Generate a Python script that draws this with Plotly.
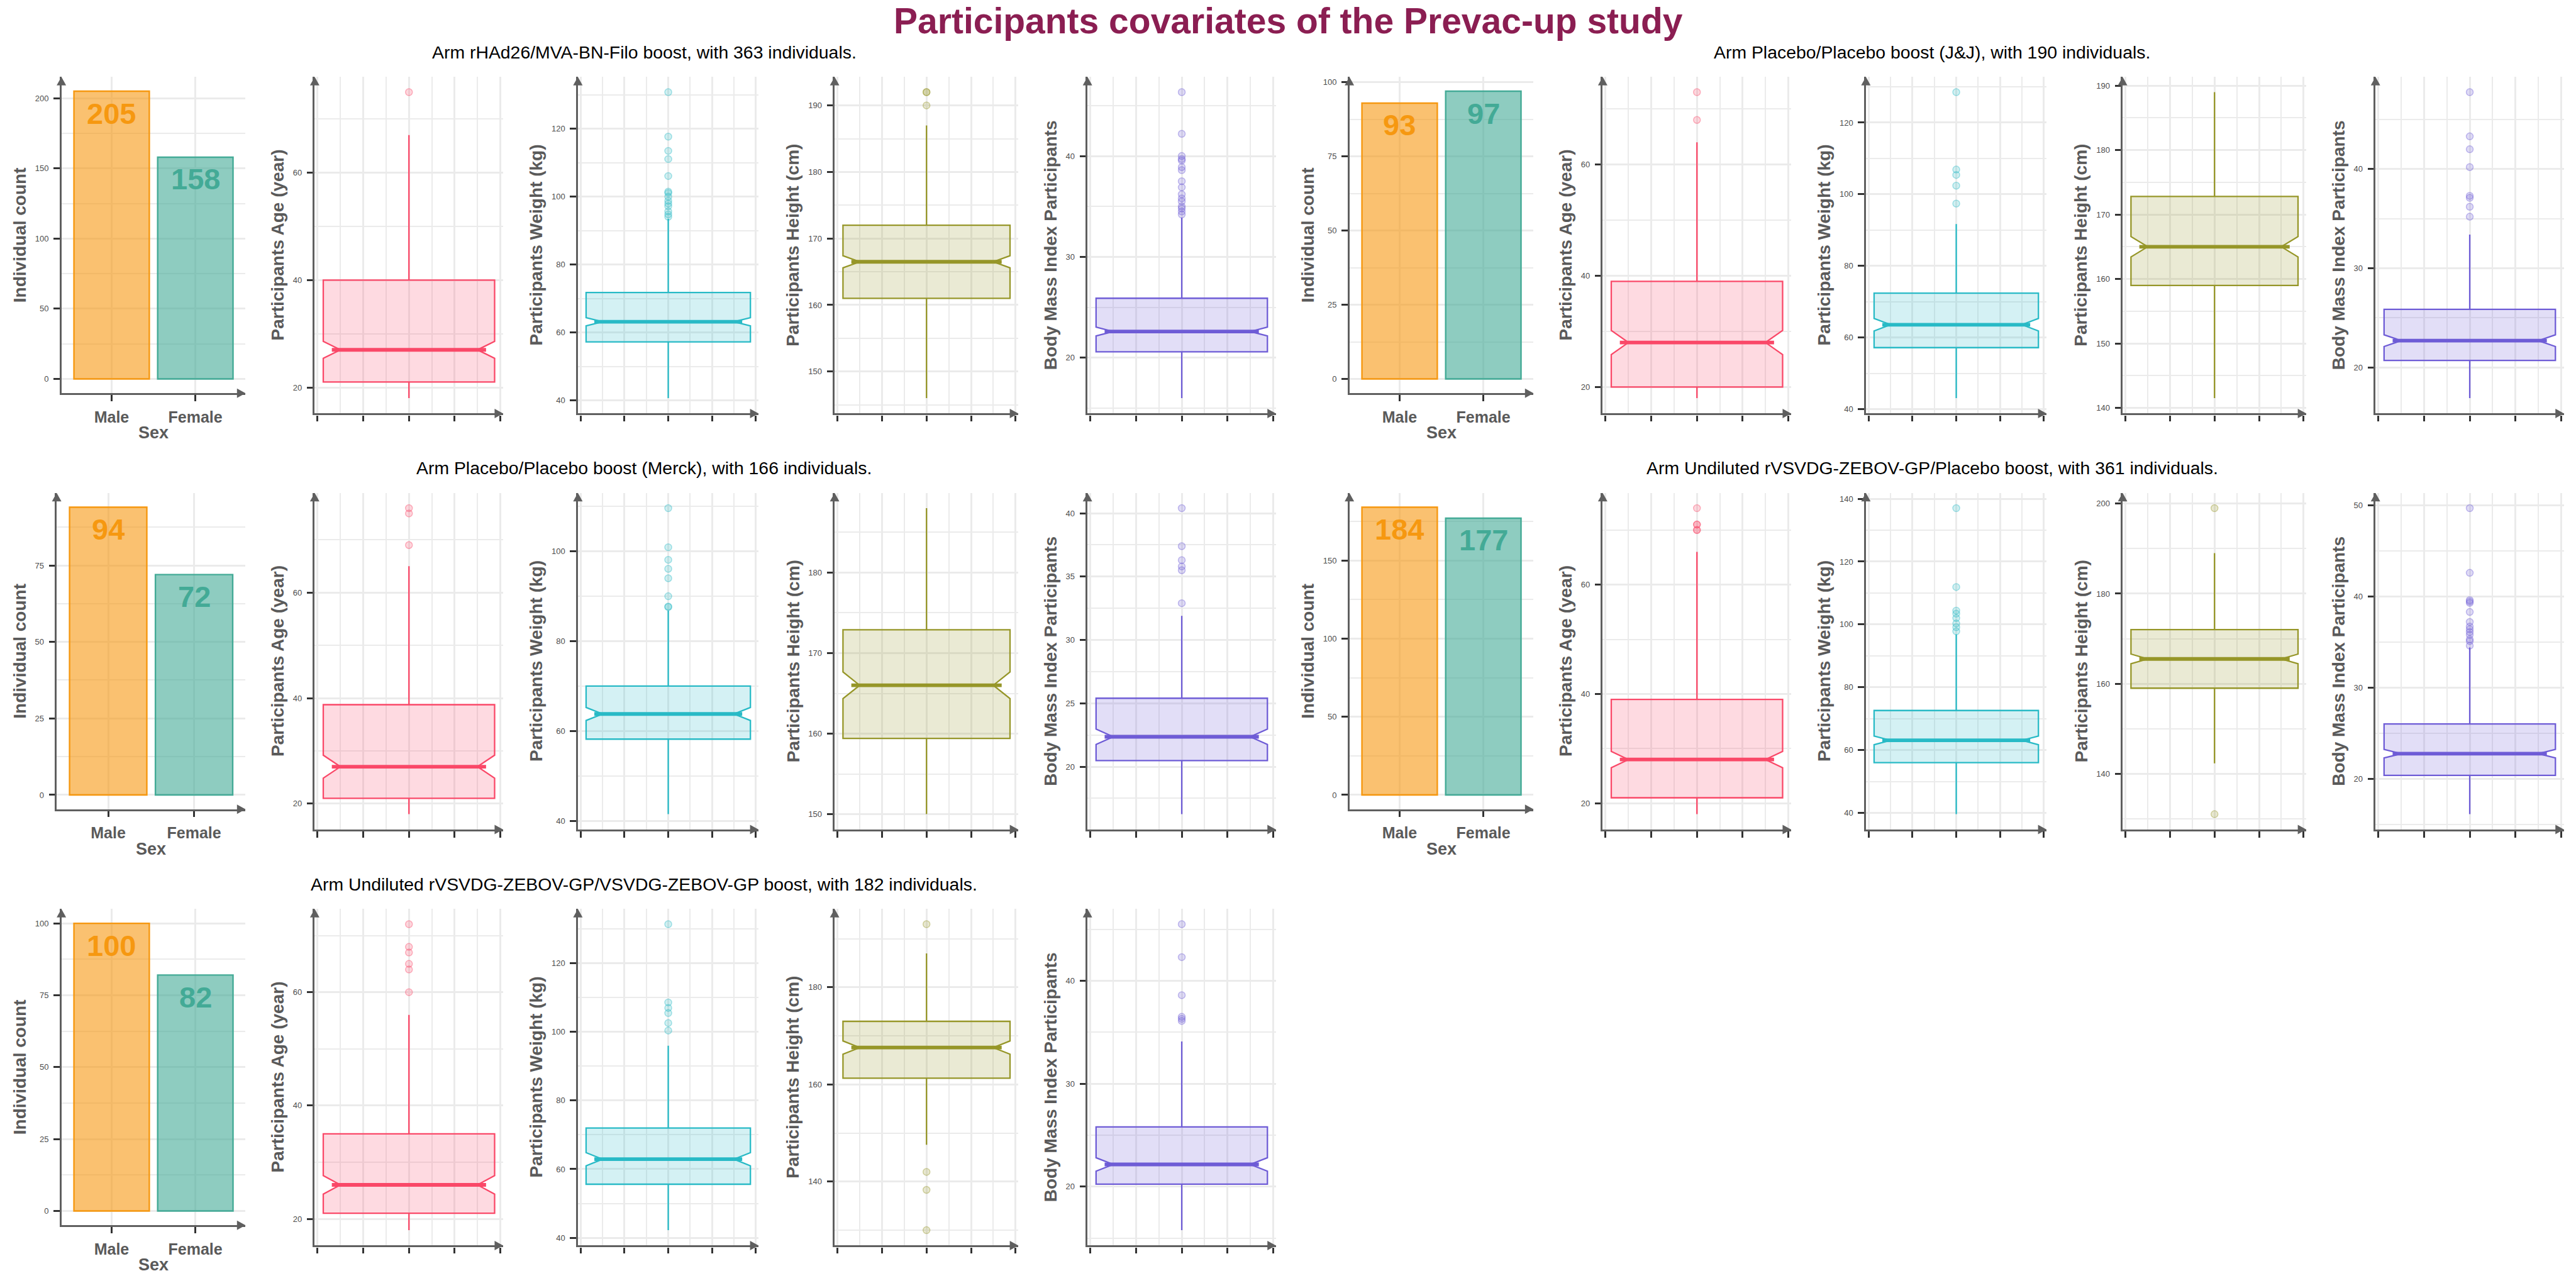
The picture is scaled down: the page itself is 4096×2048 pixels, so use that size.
import math
import plotly.graph_objects as go

# ---------------- data ----------------
main_title = "Participants covariates of the Prevac-up study"
arm_titles = [
    "Arm rHAd26/MVA-BN-Filo boost, with 363 individuals.",
    "Arm Placebo/Placebo boost (J&J), with 190 individuals.",
    "Arm Placebo/Placebo boost (Merck), with 166 individuals.",
    "Arm Undiluted rVSVDG-ZEBOV-GP/Placebo boost, with 361 individuals.",
    "Arm Undiluted rVSVDG-ZEBOV-GP/VSVDG-ZEBOV-GP boost, with 182 individuals.",
]
arm_n = [363, 190, 166, 361, 182]

sex_labels = ["Male", "Female"]
male_counts = [205, 93, 94, 184, 100]
female_counts = [158, 97, 72, 177, 82]
count_tick_step = [50, 25, 25, 50, 25]

var_titles = ["Participants Age (year)", "Participants Weight (kg)",
              "Participants Height (cm)", "Body Mass Index Participants"]

# [lower whisker, q1, median, q3, upper whisker]
age_stats = [
    [18, 21, 27, 40, 67],
    [18, 20, 28, 39, 64],
    [18, 21, 27, 38.75, 65],
    [18, 21, 28, 39, 66],
    [18, 21, 26, 35, 56],
]
age_outliers = [
    [75],
    [68, 73],
    [69, 75, 76],
    [70, 70, 71, 71, 74],
    [60, 64, 65, 67, 68, 72],
]
age_tick_step = [20, 20, 20, 20, 20]

weight_stats = [
    [40.7, 57.25, 63.2, 71.8, 93.5],
    [43.1, 57.2, 63.6, 72.4, 91.7],
    [41.5, 58.2, 63.8, 70.0, 86.8],
    [39.6, 56.0, 63.1, 72.6, 96.8],
    [42.2, 55.6, 62.9, 72.0, 96.0],
]
weight_outliers = [
    [94.1, 94.8, 95.7, 97.2, 98.0, 98.8, 100.0, 101.1, 101.5, 106.1, 111.1, 113.5, 117.7, 130.8],
    [97.4, 102.4, 105.4, 106.9, 128.5],
    [87.6, 87.7, 90.0, 94.0, 96.1, 98.1, 100.9, 109.6],
    [97.8, 99.1, 100.3, 102.0, 103.4, 104.4, 111.9, 137.0],
    [100.4, 102.6, 105.5, 107.0, 108.6, 131.4],
]
weight_tick_step = [20, 20, 20, 20, 20]

height_stats = [
    [146, 161, 166.5, 172, 187],
    [141.5, 159, 165, 172.8, 189],
    [150, 159.4, 166, 172.9, 188],
    [142.3, 159, 165.5, 172, 189],
    [147.6, 161.3, 167.6, 173, 187],
]
height_outliers = [
    [190, 192, 192],
    [],
    [],
    [131, 199],
    [130, 138.3, 142, 193],
]
height_tick_step = [10, 10, 10, 20, 20]

bmi_stats = [
    [16.0, 20.6, 22.6, 25.9, 33.9],
    [16.9, 20.7, 22.7, 25.86, 33.4],
    [16.25, 20.48, 22.36, 25.4, 31.9],
    [16.1, 20.36, 22.74, 26.0, 34.4],
    [15.77, 20.24, 22.16, 25.8, 34.1],
]
bmi_outliers = [
    [34.2, 34.5, 34.8, 35.0, 35.5, 35.8, 36.2, 36.9, 37.5, 38.6, 38.9, 39.55, 39.7, 40.0, 42.2, 46.33],
    [35.2, 36.2, 37.1, 37.3, 40.2, 42.0, 43.3, 47.76],
    [32.9, 35.5, 35.8, 36.3, 37.4, 40.4],
    [34.6, 35.1, 35.3, 35.8, 36.1, 36.4, 36.7, 37.2, 38.3, 39.3, 39.45, 39.6, 42.6, 49.7],
    [36.1, 36.3, 36.5, 38.6, 42.3, 45.5],
]
bmi_tick_step = [10, 10, 5, 10, 10]

# ---------------- styling ----------------
W, H = 4096, 2048
RW, RH = 6000.0, 3000.0

FONT = "Liberation Sans, Arial, sans-serif"
ORANGE = (246, 152, 16)
TEAL = (67, 170, 150)
VAR_COLORS = [(250, 72, 104), (40, 186, 198), (150, 150, 40), (110, 92, 214)]
GRID = "#EBEBEB"
AXIS_C = "#5F5F5F"
TICK_C = "#333333"
LAB_C = "#4D4D4D"
TITLE_C = "#5A5A5A"


def rgba(c, a):
    return "rgba(%d,%d,%d,%.3f)" % (c[0], c[1], c[2], a)


def hexc(c):
    return "rgb(%d,%d,%d)" % c


def px(x):
    return x / RW


def py(y):
    return 1 - y / RH


var_stats = [age_stats, weight_stats, height_stats, bmi_stats]
var_outs = [age_outliers, weight_outliers, height_outliers, bmi_outliers]
var_steps = [age_tick_step, weight_tick_step, height_tick_step, bmi_tick_step]

# column geometry in reference pixels (left group)
BOX_LEFT = [733, 1346, 1944, 2533]
BOX_RIGHT = [1172, 1767, 2372, 2972]
BAR_TITLE_X = 46
BAR_RIGHT = 572
ROW_PITCH = 969
TOP = 179
BAR_BOTTOM = 916
BOX_BOTTOM = 963

fig = go.Figure()
layout = {}
shapes = []
annotations = []

AXW = 3.2
MAJW = 3.4
MINW = 2.0
TICKLEN = 9.5
TICKW = 3.2


def arrows(left, right, top, bottom):
    L = 20.0
    hw = 11.0
    shapes.append(dict(
        type="path", xref="paper", yref="paper", layer="above",
        path="M %f,%f L %f,%f L %f,%f Z" % (
            px(left), py(top), px(left - hw), py(top + L), px(left + hw), py(top + L)),
        fillcolor=AXIS_C, line=dict(width=0)))
    shapes.append(dict(
        type="path", xref="paper", yref="paper", layer="above",
        path="M %f,%f L %f,%f L %f,%f Z" % (
            px(right), py(bottom), px(right - L), py(bottom - hw), px(right - L), py(bottom + hw)),
        fillcolor=AXIS_C, line=dict(width=0)))


def base_axis():
    return dict(showline=True, linecolor=AXIS_C, linewidth=AXW, zeroline=False,
                showgrid=True, gridcolor=GRID, gridwidth=MAJW,
                ticks="outside", ticklen=TICKLEN, tickwidth=TICKW, tickcolor=TICK_C,
                tickfont=dict(family=FONT, size=13, color=LAB_C),
                fixedrange=True, automargin=False)


idx = 0
for a in range(5):
    r, g = a // 2, a % 2
    ox, oy = 3000 * g, ROW_PITCH * r
    top = TOP + oy

    # subtitle
    annotations.append(dict(x=px(1500 + ox), y=py(121 + oy), xref="paper", yref="paper",
                            text=arm_titles[a], showarrow=False, xanchor="center", yanchor="middle",
                            font=dict(family=FONT, size=28.4, color="black")))

    # ---- bar panel ----
    idx += 1
    xa, ya = "x%d" % idx, "y%d" % idx
    counts = [male_counts[a], female_counts[a]]
    ymax = max(counts)
    step = count_tick_step[a]
    max_tick = int(math.floor(1.05 * ymax / step) * step)
    ndig = len(str(max_tick))
    left = BAR_TITLE_X + 97 - 11 * (3 - ndig) + ox
    right = BAR_RIGHT + ox
    bottom = BAR_BOTTOM + oy
    fig.add_trace(go.Bar(
        x=sex_labels, y=counts, width=0.9, xaxis=xa, yaxis=ya,
        marker=dict(color=[rgba(ORANGE, 0.6), rgba(TEAL, 0.6)],
                    line=dict(color=[hexc(ORANGE), hexc(TEAL)], width=2.4)),
        hoverinfo="skip", showlegend=False))
    ax = base_axis()
    ax.update(domain=[px(left), px(right)], anchor=ya, type="category", range=[-0.6, 1.6],
              tickfont=dict(family=FONT, size=25, color=TITLE_C, weight="bold"),
              ticklabelstandoff=4)
    layout["xaxis%d" % idx] = ax
    ay = base_axis()
    ay.update(domain=[py(bottom), py(top)], anchor=xa, range=[-0.05 * ymax, 1.05 * ymax],
              tick0=0, dtick=step, ticklabelstandoff=5,
              minor=dict(dtick=step / 2.0, tick0=0, showgrid=True, gridcolor=GRID, gridwidth=MINW))
    layout["yaxis%d" % idx] = ay
    arrows(left, right, top, bottom)
    for lab, val, col in zip(sex_labels, counts, [ORANGE, TEAL]):
        annotations.append(dict(x=lab, y=val, xref=xa, yref=ya, text=str(val), showarrow=False,
                                xanchor="center", yanchor="middle", yshift=-35,
                                font=dict(family=FONT, size=47, color=hexc(col), weight="bold")))
    annotations.append(dict(x=px(BAR_TITLE_X + ox), y=py((top + bottom) / 2.0), xref="paper", yref="paper",
                            text="Individual count", textangle=-90, showarrow=False,
                            xanchor="center", yanchor="middle",
                            font=dict(family=FONT, size=28, color=TITLE_C, weight="bold")))
    annotations.append(dict(x=px((left + right) / 2.0), y=py(1008 + oy), xref="paper", yref="paper",
                            text="Sex", showarrow=False, xanchor="center", yanchor="middle",
                            font=dict(family=FONT, size=27, color=TITLE_C, weight="bold")))

    # ---- box panels ----
    bottom = BOX_BOTTOM + oy
    for v in range(4):
        idx += 1
        xa, ya = "x%d" % idx, "y%d" % idx
        col = VAR_COLORS[v]
        lw, q1, med, q3, uw = var_stats[v][a]
        outs = var_outs[v][a]
        step = var_steps[v][a]
        lo = min([lw] + outs)
        hi = max([uw] + outs)
        pad = 0.05 * (hi - lo)
        left = BOX_LEFT[v] + ox
        right = BOX_RIGHT[v] + ox
        notch = 1.58 * (q3 - q1) / math.sqrt(arm_n[a])
        fig.add_trace(go.Box(
            x=[0], q1=[q1], median=[med], q3=[q3], lowerfence=[lw], upperfence=[uw],
            orientation="v", notched=True, notchspan=[notch], notchwidth=0.1, width=0.75,
            whiskerwidth=0, boxpoints=False, line=dict(color=hexc(col), width=2.3),
            fillcolor=rgba(col, 0.2), xaxis=xa, yaxis=ya, hoverinfo="skip", showlegend=False))
        half_notched = 0.375 * (1 - 0.1)
        fig.add_trace(go.Scatter(
            x=[-half_notched, half_notched], y=[med, med], mode="lines",
            line=dict(color=hexc(col), width=5.8), xaxis=xa, yaxis=ya,
            hoverinfo="skip", showlegend=False))
        if outs:
            fig.add_trace(go.Scatter(
                x=[0] * len(outs), y=outs, mode="markers",
                marker=dict(size=11, color=rgba(col, 0.22), line=dict(color=rgba(col, 0.4), width=1.5)),
                xaxis=xa, yaxis=ya, hoverinfo="skip", showlegend=False))
        ax = base_axis()
        ax.update(domain=[px(left), px(right)], anchor=ya, range=[-0.4125, 0.4125],
                  tick0=0, dtick=0.2, showticklabels=False,
                  minor=dict(dtick=0.1, tick0=0, showgrid=True, gridcolor=GRID, gridwidth=MINW))
        layout["xaxis%d" % idx] = ax
        ay = base_axis()
        ay.update(domain=[py(bottom), py(top)], anchor=xa, range=[lo - pad, hi + pad],
                  tick0=0, dtick=step, ticklabelstandoff=5,
                  minor=dict(dtick=step / 2.0, tick0=0, showgrid=True, gridcolor=GRID, gridwidth=MINW))
        layout["yaxis%d" % idx] = ay
        arrows(left, right, top, bottom)
        max_tick = int(math.floor((hi + pad) / step) * step)
        off = 97 if len(str(max_tick)) >= 3 else 86
        annotations.append(dict(x=px(left - off), y=py((top + bottom) / 2.0), xref="paper", yref="paper",
                                text=var_titles[v], textangle=-90, showarrow=False,
                                xanchor="center", yanchor="middle",
                                font=dict(family=FONT, size=28, color=TITLE_C, weight="bold")))

annotations.append(dict(x=0.5, y=py(49), xref="paper", yref="paper", text=main_title, showarrow=False,
                        xanchor="center", yanchor="middle",
                        font=dict(family=FONT, size=57, color="#8B1E52", weight="bold")))

layout.update(dict(width=W, height=H, autosize=False,
                   margin=dict(l=0, r=0, t=0, b=0, pad=0),
                   paper_bgcolor="white", plot_bgcolor="white",
                   showlegend=False, hovermode=False,
                   shapes=shapes, annotations=annotations))
fig.update_layout(**layout)
fig.write_html("out.html", config={"displayModeBar": False})
